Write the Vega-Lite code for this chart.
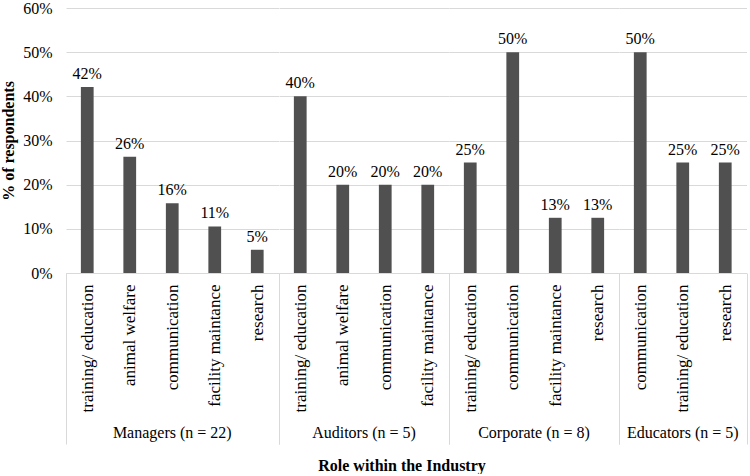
{
  "$schema": "https://vega.github.io/schema/vega-lite/v6.json",
  "padding": 0,
  "config": {
    "font": "Liberation Serif",
    "view": {"stroke": null}
  },
  "data": {
    "values": [
      {"role": "Managers (n = 22)", "item": "training/ education", "pct": 0.4211},
      {"role": "Managers (n = 22)", "item": "animal welfare", "pct": 0.2632},
      {"role": "Managers (n = 22)", "item": "communication", "pct": 0.1579},
      {"role": "Managers (n = 22)", "item": "facility maintance", "pct": 0.1053},
      {"role": "Managers (n = 22)", "item": "research", "pct": 0.0526},
      {"role": "Auditors (n = 5)", "item": "training/ education", "pct": 0.4},
      {"role": "Auditors (n = 5)", "item": "animal welfare", "pct": 0.2},
      {"role": "Auditors (n = 5)", "item": "communication", "pct": 0.2},
      {"role": "Auditors (n = 5)", "item": "facility maintance", "pct": 0.2},
      {"role": "Corporate (n = 8)", "item": "training/ education", "pct": 0.25},
      {"role": "Corporate (n = 8)", "item": "communication", "pct": 0.5},
      {"role": "Corporate (n = 8)", "item": "facility maintance", "pct": 0.125},
      {"role": "Corporate (n = 8)", "item": "research", "pct": 0.125},
      {"role": "Educators (n = 5)", "item": "communication", "pct": 0.5},
      {"role": "Educators (n = 5)", "item": "training/ education", "pct": 0.25},
      {"role": "Educators (n = 5)", "item": "research", "pct": 0.25}
    ]
  },
  "facet": {
    "column": {
      "field": "role",
      "type": "nominal",
      "sort": ["Managers (n = 22)", "Auditors (n = 5)", "Corporate (n = 8)", "Educators (n = 5)"],
      "title": "Role within the Industry",
      "header": {
        "labelOrient": "bottom",
        "titleOrient": "bottom",
        "labelFontSize": 16,
        "labelColor": "#000000",
        "labelPadding": 152,
        "titleFontSize": 16,
        "titleFontWeight": "bold",
        "titleColor": "#000000",
        "titlePadding": 7
      }
    }
  },
  "spacing": 0,
  "bounds": "flush",
  "resolve": {"scale": {"x": "independent"}},
  "spec": {
    "width": {"step": 42.5},
    "height": 265,
    "encoding": {
      "x": {
        "field": "item",
        "type": "nominal",
        "sort": null,
        "scale": {"paddingInner": 0, "paddingOuter": 0},
        "axis": {
          "title": null,
          "labelAngle": -90,
          "labelFontSize": 17,
          "labelColor": "#000000",
          "domainColor": "#d9d9d9",
          "tickBand": "extent",
          "tickSize": 171,
          "tickColor": {"condition": {"test": "datum.index == 1 || datum.index < 0", "value": "#d9d9d9"}, "value": "transparent"},
          "labelPadding": -160
        }
      },
      "y": {
        "field": "pct",
        "type": "quantitative",
        "scale": {"domain": [0, 0.6]},
        "axis": {
          "values": [0, 0.1, 0.2, 0.3, 0.4, 0.5, 0.6],
          "format": ".0%",
          "domain": false,
          "ticks": false,
          "labelFontSize": 16,
          "labelColor": "#000000",
          "labelPadding": 14,
          "gridColor": "#d9d9d9",
          "title": "% of respondents",
          "titleFontSize": 16,
          "titleFontWeight": "bold",
          "titleColor": "#000000",
          "titlePadding": 6
        }
      }
    },
    "layer": [
      {"mark": {"type": "bar", "width": {"band": 0.3}, "color": "#505050"}},
      {
        "mark": {"type": "text", "dy": -13, "fontSize": 16, "color": "#000000"},
        "encoding": {"text": {"field": "pct", "type": "quantitative", "format": ".0%"}}
      }
    ]
  }
}
